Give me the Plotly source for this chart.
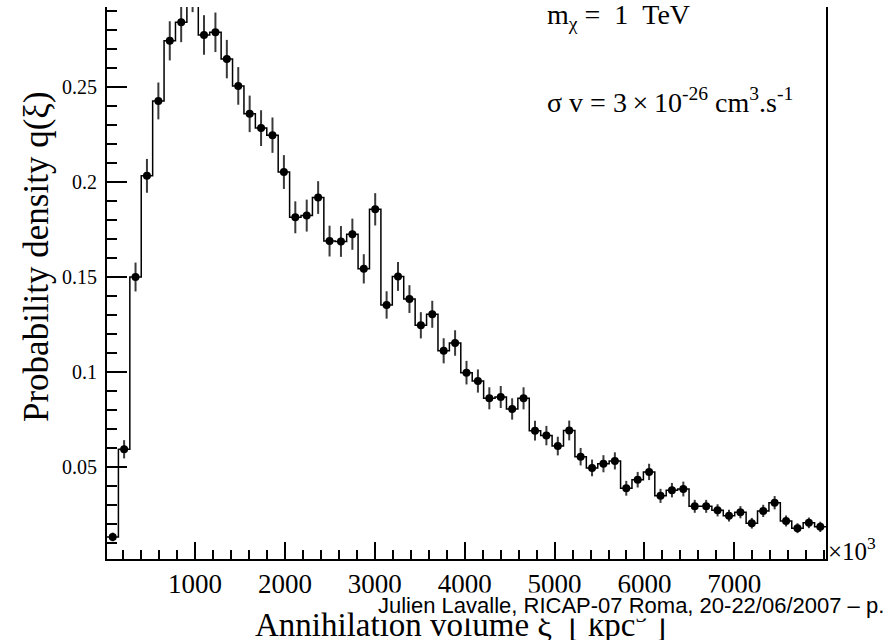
import numpy as np
import plotly.graph_objects as go

# ---------------- data ----------------
xi_min = 20.0      # [10^3 kpc^3]
xi_max = 8020.0
q_values = [
    0.0132, 0.0593, 0.1499, 0.2031, 0.2425, 0.2741, 0.2839, 0.3000, 0.2772, 0.2786,
    0.2645, 0.2504, 0.2357, 0.2282, 0.2245, 0.2051, 0.1813, 0.1822, 0.1917, 0.1688,
    0.1686, 0.1724, 0.1542, 0.1855, 0.1352, 0.1502, 0.1383, 0.1245, 0.1303, 0.1111,
    0.1152, 0.0996, 0.0952, 0.0861, 0.0868, 0.0805, 0.0861, 0.0691, 0.0665, 0.0610,
    0.0692, 0.0554, 0.0495, 0.0517, 0.0532, 0.0388, 0.0433, 0.0474, 0.0348, 0.0378,
    0.0384, 0.0293, 0.0293, 0.0272, 0.0244, 0.0262, 0.0204, 0.0269, 0.0312, 0.0216,
    0.0178, 0.0206, 0.0185,
]
q_errors = [
    0.0023, 0.0048, 0.0076, 0.0089, 0.0097, 0.0103, 0.0105, 0.0108, 0.0104, 0.0104,
    0.0101, 0.0099, 0.0096, 0.0094, 0.0093, 0.0089, 0.0084, 0.0084, 0.0086, 0.0081,
    0.0081, 0.0082, 0.0077, 0.0085, 0.0072, 0.0076, 0.0073, 0.0069, 0.0071, 0.0066,
    0.0067, 0.0062, 0.0061, 0.0058, 0.0058, 0.0056, 0.0058, 0.0052, 0.0051, 0.0049,
    0.0052, 0.0046, 0.0044, 0.0045, 0.0045, 0.0039, 0.0041, 0.0043, 0.0037, 0.0038,
    0.0039, 0.0034, 0.0034, 0.0032, 0.0031, 0.0032, 0.0028, 0.0032, 0.0035, 0.0029,
    0.0026, 0.0028, 0.0027,
]
x_tick_vals = [1000, 2000, 3000, 4000, 5000, 6000, 7000]
x_tick_text = ["1000", "2000", "3000", "4000", "5000", "6000", "7000"]
y_tick_vals = [0.05, 0.10, 0.15, 0.20, 0.25]
y_tick_text = ["0.05", "0.1", "0.15", "0.2", "0.25"]
y_range = [0.0016, 0.2919]

n_bins = len(q_values)
edges = np.linspace(xi_min, xi_max, n_bins + 1)
centers = 0.5 * (edges[:-1] + edges[1:])

# ---------------- geometry helpers (pixels -> paper) ----------------
W, H = 890, 640
ML, MR, MT, MB = 107, 64, 7, 81
PW, PH = W - ML - MR, H - MT - MB


def px(x):
    return (x - ML) / PW


def py(y):
    return (H - MB - y) / PH


SERIF = "Liberation Serif"
SANS = "Liberation Sans"
NB = "\u00a0"
TH = "\u2009"

fig = go.Figure()

# histogram outline
fig.add_trace(go.Scatter(
    x=list(edges), y=q_values + [q_values[-1]],
    mode="lines", line=dict(color="black", width=1.5, shape="hv"),
    hoverinfo="skip", showlegend=False,
))

# points with error bars
fig.add_trace(go.Scatter(
    x=list(centers), y=q_values, mode="markers",
    marker=dict(color="black", size=8),
    error_y=dict(type="data", array=q_errors, visible=True,
                 color="#3a3a3a", thickness=2, width=0),
    showlegend=False,
))

fig.update_layout(
    width=W, height=H,
    margin=dict(l=ML, r=MR, t=MT, b=MB, pad=0),
    paper_bgcolor="white", plot_bgcolor="white",
    showlegend=False,
    xaxis=dict(
        range=[xi_min, xi_max], showgrid=False, zeroline=False,
        showline=True, linecolor="black", linewidth=2, mirror=False,
        ticks="inside", ticklen=17, tickwidth=1.5, tickcolor="black",
        tickmode="array", tickvals=x_tick_vals, ticktext=x_tick_text,
        tickfont=dict(family=SERIF, size=27, color="black"),
        minor=dict(ticks="inside", ticklen=9, tickwidth=1.5, tickcolor="black",
                   tickmode="linear", tick0=0, dtick=200, showgrid=False),
        ticklabelstandoff=0,
    ),
    yaxis=dict(
        range=y_range, showgrid=False, zeroline=False,
        showline=True, linecolor="black", linewidth=2, mirror=True,
        ticks="inside", ticklen=20, tickwidth=1.5, tickcolor="black",
        tickmode="array", tickvals=y_tick_vals, ticktext=y_tick_text,
        tickfont=dict(family=SERIF, size=20, color="black"),
        minor=dict(ticks="inside", ticklen=10, tickwidth=1.5, tickcolor="black",
                   tickmode="linear", tick0=0, dtick=0.01, showgrid=False),
        ticklabelstandoff=4,
    ),
)

annotations = [
    dict(text="Probability density q(ξ)", textangle=-90,
         x=px(36), y=py(257), xanchor="center", yanchor="middle",
         font=dict(family=SERIF, size=35, color="black")),
    dict(text="Annihilation volume ξ  [ kpc<sup>3</sup> ]",
         x=px(253), y=py(622), xanchor="left", yanchor="middle",
         font=dict(family=SERIF, size=33, color="black")),
    dict(text="Julien Lavalle, RICAP-07 Roma, 20-22/06/2007 – p.",
         x=px(377), y=py(605.5), xanchor="left", yanchor="middle",
         font=dict(family=SANS, size=22, color="black"),
         bgcolor="white", borderpad=0),
    dict(text="×10<sup>3</sup>",
         x=px(826), y=py(549), xanchor="left", yanchor="middle",
         font=dict(family=SERIF, size=25, color="black")),
    dict(text=f"m<sub>χ</sub> ={NB} 1{NB} TeV",
         x=px(545), y=py(17), xanchor="left", yanchor="middle",
         font=dict(family=SERIF, size=28, color="black")),
    dict(text=f"σ v = 3{TH}×{TH}10<sup>-26</sup> cm<sup>3</sup>.s<sup>-1</sup>",
         x=px(545), y=py(101), xanchor="left", yanchor="middle",
         font=dict(family=SERIF, size=28, color="black")),
]
for a in annotations:
    a.update(xref="paper", yref="paper", showarrow=False)
fig.update_layout(annotations=annotations)

fig.write_html("out.html")
